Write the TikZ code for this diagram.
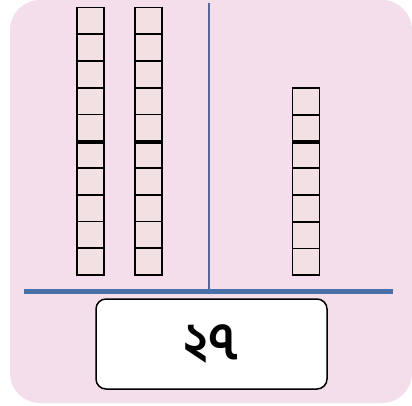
\documentclass[tikz,border=0pt]{standalone}
\usepackage{fontspec}
\newfontfamily\bengfont[Script=Bengali]{Hind Siliguri}
\usetikzlibrary{positioning,calc}
\definecolor{cardpink}{RGB}{245,222,236}
\definecolor{cellfill}{RGB}{242,224,226}
\definecolor{barblue}{RGB}{74,112,170}
\definecolor{divblue}{RGB}{88,102,150}
\tikzset{
    every picture/.style={line width=0.5pt},
    cell/.style={draw=black,fill=cellfill,line width=1.8pt,minimum width=27pt,minimum height=26.8pt,inner sep=0pt},
    answer/.style={draw=black,fill=white,rounded corners=10pt,line width=1.5pt,minimum width=231pt,minimum height=90pt,inner sep=0pt}
}

\begin{document}
\begin{tikzpicture}[x=1pt,y=-1pt]
    \useasboundingbox (0,0) rectangle (412,405);
    % card
    \fill[white] (0,0) rectangle (412,405);
    \fill[cardpink,rounded corners=30pt] (10,0) rectangle (412,403);

    % tens rods
    \foreach \c/\x in {a/90.5,b/148.5}{
        \foreach \i in {1,...,10}{
            \node[cell] (\c\i) at (\x,{7.5+26.75*(\i-0.5)}) {};
        }
        \draw[line width=4pt] (\c5.south west) -- (\c5.south east);
    }

    % ones rod
    \foreach \i in {1,...,7}{
        \node[cell] (u\i) at (306,{88+26.75*(\i-0.5)}) {};
    }
    \draw[line width=4pt] (u2.south west) -- (u2.south east);

    % dividers
    \coordinate (top) at (209,3);
    \coordinate (mid) at (209,289);
    \coordinate (left) at (24,291);
    \coordinate (right) at (393,291);
    \draw[divblue,line width=1.3pt] (top) -- (mid);
    \draw[barblue,line width=5pt] (left) -- (right);

    % number
    \node[answer] (num) at (211.5,344) {\bengfont\bfseries\fontsize{52}{52}\selectfont ২৭};
\end{tikzpicture}
\end{document}
